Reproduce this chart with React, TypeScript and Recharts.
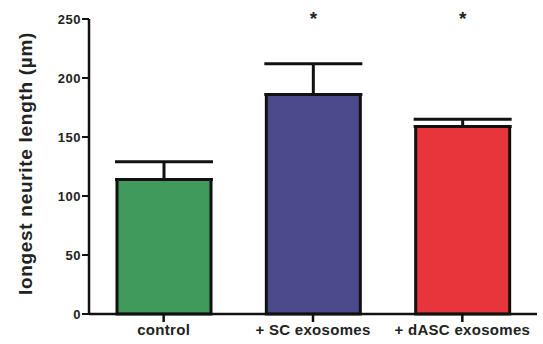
import React from "react";
import { BarChart, Bar, XAxis, YAxis, Cell, ErrorBar, LabelList } from "recharts";

const categories = ["control", "+ SC exosomes", "+ dASC exosomes"];
const means = [114, 186, 159];
const sem = [15, 26, 6];
const sig = ["", "*", "*"];
const yTicks = [0, 50, 100, 150, 200, 250];

const colors = ["#3f9a5c", "#4b4a8c", "#e8353b"];

const data = categories.map((name, i) => ({
  name,
  value: means[i],
  err: [0, sem[i]],
  sig: sig[i],
}));

const font = "'Liberation Sans', Arial, sans-serif";

const Star = (props: any) => {
  const { x, width, value } = props;
  if (!value) return null;
  return (
    <text
      x={x + width / 2}
      y={25}
      textAnchor="middle"
      fontFamily={font}
      fontWeight="bold"
      fontSize={19}
      fill="#222"
    >
      {value}
    </text>
  );
};

export default function App() {
  return (
    <div style={{ position: "absolute", left: 0, top: 0, background: "#fff" }}>
      <BarChart
        width={543}
        height={344}
        data={data}
        margin={{ top: 19, right: 6, left: 0, bottom: 0 }}
        barSize={94}
      >
        <XAxis
          dataKey="name"
          height={30}
          axisLine={{ stroke: "#111", strokeWidth: 2.5 }}
          tickLine={{ stroke: "#111", strokeWidth: 2.5 }}
          tickSize={8}
          tick={{ fill: "#222", fontFamily: font, fontWeight: "bold", fontSize: 15, letterSpacing: 0.3 }}
          interval={0}
        />
        <YAxis
          width={89}
          domain={[0, 250]}
          ticks={yTicks}
          axisLine={{ stroke: "#111", strokeWidth: 2.5 }}
          tickLine={{ stroke: "#111", strokeWidth: 2 }}
          tickSize={7}
          tickMargin={1}
          tick={{ fill: "#222", fontFamily: font, fontWeight: "bold", fontSize: 13, letterSpacing: 0.5 }}
          label={{
            value: "longest neurite length (\u00b5m)",
            angle: -90,
            position: "center",
            dx: -19,
            dy: -3,
            style: { fontFamily: font, fontWeight: "bold", fontSize: 19, letterSpacing: 0.7, fill: "#222" },
          }}
        />
        <Bar dataKey="value" stroke="#111" strokeWidth={3} isAnimationActive={false}>
          {data.map((d, i) => (
            <Cell key={d.name} fill={colors[i]} />
          ))}
          <ErrorBar dataKey="err" width={49} stroke="#111" strokeWidth={3} direction="y" />
          <LabelList dataKey="sig" content={Star} />
        </Bar>
      </BarChart>
    </div>
  );
}
